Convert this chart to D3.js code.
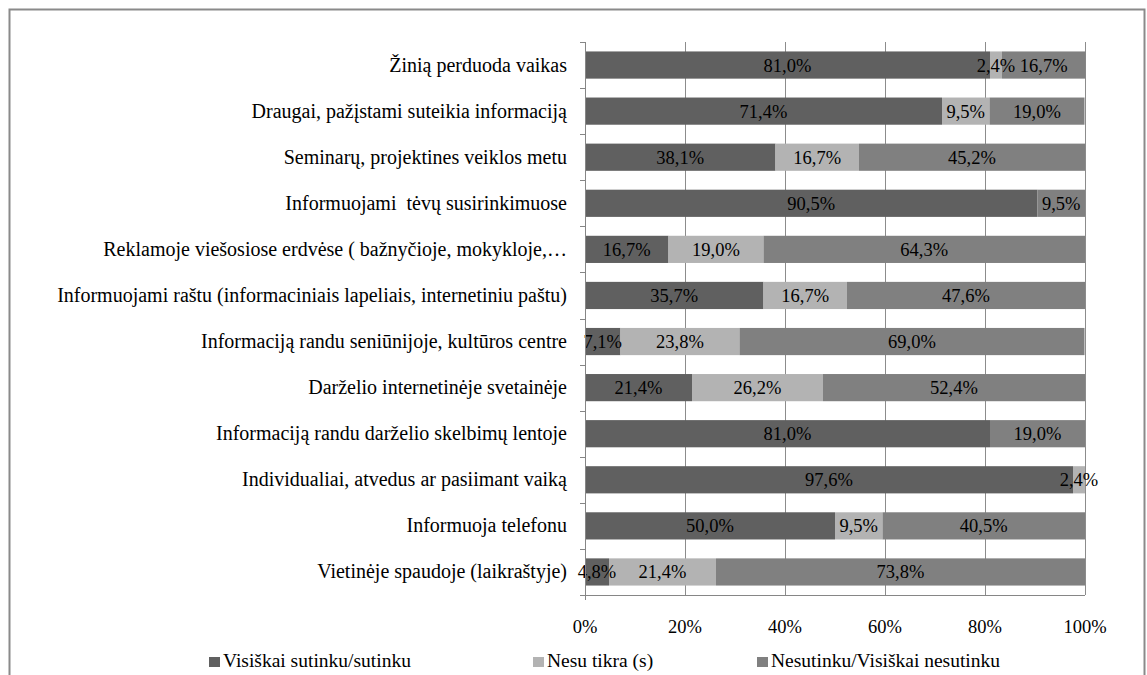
<!DOCTYPE html>
<html>
<head>
<meta charset="utf-8">
<script src="https://cdn.jsdelivr.net/npm/d3@7/dist/d3.min.js"></script>
</head>
<body style="margin:0">
<svg id="chart" width="1147" height="675"></svg>
<script>
const categories = [
  "Žinią perduoda vaikas",
  "Draugai, pažįstami suteikia informaciją",
  "Seminarų, projektines veiklos metu",
  "Informuojami  tėvų susirinkimuose",
  "Reklamoje viešosiose erdvėse ( bažnyčioje, mokykloje,…",
  "Informuojami raštu (informaciniais lapeliais, internetiniu paštu)",
  "Informaciją randu seniūnijoje, kultūros centre",
  "Darželio internetinėje svetainėje",
  "Informaciją randu darželio skelbimų lentoje",
  "Individualiai, atvedus ar pasiimant vaiką",
  "Informuoja telefonu",
  "Vietinėje spaudoje (laikraštyje)"
];
const seriesNames = ["Visiškai sutinku/sutinku", "Nesu tikra (s)", "Nesutinku/Visiškai nesutinku"];
const agree    = [81.0, 71.4, 38.1, 90.5, 16.7, 35.7, 7.1, 21.4, 81.0, 97.6, 50.0, 4.8];
const unsure   = [2.4, 9.5, 16.7, 0, 19.0, 16.7, 23.8, 26.2, 0, 2.4, 9.5, 21.4];
const disagree = [16.7, 19.0, 45.2, 9.5, 64.3, 47.6, 69.0, 52.4, 19.0, 0, 40.5, 73.8];
const xTicks = [0, 20, 40, 60, 80, 100];
const colors = ["#606060", "#b3b3b3", "#808080"];

const svg = d3.select("#chart");
svg.style("font-family", '"Liberation Serif"', "important");

// outer border
svg.append("rect").attr("x", 9.5).attr("y", 9.5).attr("width", 1135).attr("height", 700)
  .attr("fill", "none").attr("stroke", "#8a8a8a").attr("stroke-width", 2);

const x = d3.scaleLinear().domain([0, 100]).range([585, 1085]);
const y = d3.scaleBand().domain(categories).range([42, 595]).paddingInner(0.41).paddingOuter(0.205);

// gridlines
svg.append("g").selectAll("line").data(xTicks.slice(1)).join("line")
  .attr("x1", d => x(d) + 0.5).attr("x2", d => x(d) + 0.5)
  .attr("y1", 42).attr("y2", 595)
  .attr("stroke", "#8c8c8c").attr("stroke-width", 1);

const rows = categories.map((c, i) => ({ c, vals: [agree[i], unsure[i], disagree[i]] }));
const segs = [];
rows.forEach(r => {
  let acc = 0;
  r.vals.forEach((v, k) => {
    segs.push({ c: r.c, k, v, x0: acc, x1: acc + v });
    acc += v;
  });
});

svg.append("g").selectAll("rect").data(segs.filter(s => s.v > 0)).join("rect")
  .attr("x", d => x(d.x0)).attr("width", d => x(d.x1) - x(d.x0))
  .attr("y", d => y(d.c)).attr("height", y.bandwidth())
  .attr("fill", d => colors[d.k]);

function styleText(sel, size) {
  return sel
    .style("font-family", d => '"Liberation Serif"', "important")
    .style("font-size", d => size)
    .style("fill", "#000");
}

styleText(svg.append("g").selectAll("text").data(segs.filter(s => s.v > 0)).join("text")
  .attr("x", d => x((d.x0 + d.x1) / 2)).attr("y", d => y(d.c) + y.bandwidth() / 2 + 6.5)
  .attr("text-anchor", "middle"), "18.5px")
  .text(d => d.v.toFixed(1).replace(".", ",") + "%");

// y axis
const yAxis = svg.append("g");
yAxis.append("line").attr("x1", 585.5).attr("x2", 585.5).attr("y1", 42).attr("y2", 600)
  .attr("stroke", "#868686");
const boundaries = d3.range(categories.length + 1).map(i => 42 + i * (553 / categories.length));
yAxis.selectAll("line.t").data(boundaries).join("line").attr("class", "t")
  .attr("x1", 580).attr("x2", 585).attr("y1", d => Math.round(d) + 0.5).attr("y2", d => Math.round(d) + 0.5)
  .attr("stroke", "#868686");
styleText(yAxis.selectAll("text").data(categories).join("text")
  .attr("x", 567).attr("y", d => y(d) + y.bandwidth() / 2 + 6.5)
  .attr("text-anchor", "end"), "20px")
  .style("white-space", "pre")
  .text(d => d);

// x axis
const xAxis = svg.append("g");
xAxis.append("line").attr("x1", 580).attr("x2", 1085).attr("y1", 595.5).attr("y2", 595.5)
  .attr("stroke", "#868686");
styleText(xAxis.selectAll("text").data(xTicks).join("text")
  .attr("x", d => x(d)).attr("y", 633)
  .attr("text-anchor", "middle"), "18.5px")
  .text(d => d + "%");

// legend
const legendX = [209, 533, 757];
const lg = svg.append("g").selectAll("g").data(seriesNames).join("g")
  .attr("transform", (d, i) => `translate(${legendX[i]},667)`);
lg.append("rect").attr("x", 0).attr("y", -10).attr("width", 11).attr("height", 10)
  .attr("fill", (d, i) => colors[i]);
styleText(lg.append("text").attr("x", 14).attr("y", 0), "19.5px").text(d => d);
</script>
</body>
</html>
